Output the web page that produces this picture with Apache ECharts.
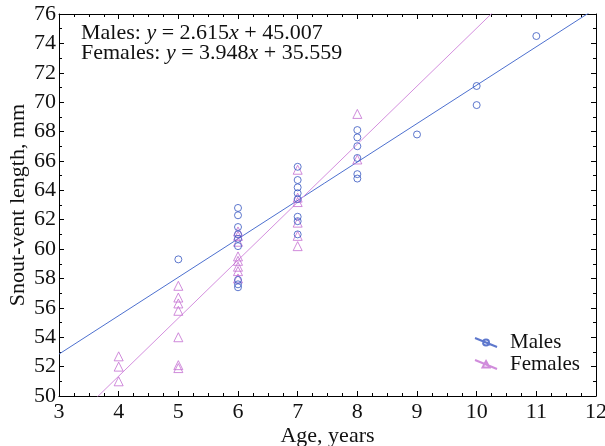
<!DOCTYPE html>
<html><head><meta charset="utf-8">
<script src="https://cdn.jsdelivr.net/npm/echarts@6/dist/echarts.min.js"></script>
<style>html,body{margin:0;padding:0;background:#fff}#c{width:605px;height:446px}</style>
</head><body><div id="c"></div>
<script>
// Data
const maleAges = [5, 6,6,6,6,6,6,6,6,6, 7,7,7,7,7,7,7,7, 8,8,8,8,8,8, 9, 10,10, 11];
const maleSVL  = [59.3, 62.8,62.3,61.5,61.0,60.7,60.2,57.9,57.6,57.4, 65.6,64.7,64.2,63.8,63.4,62.2,61.9,61.0, 68.1,67.6,67.0,66.2,65.1,64.8, 67.8, 71.1,69.8, 74.5];
const femaleAges = [4,4,4, 5,5,5,5,5,5,5, 6,6,6,6,6,6,6,6, 7,7,7,7,7,7, 8,8];
const femaleSVL  = [52.7,52.0,51.0, 57.5,56.7,56.3,55.8,54.0,52.1,51.9, 61.2,60.9,60.5,59.5,59.2,58.8,58.5,58.0, 65.4,63.5,63.2,61.8,60.9,60.2, 69.2,66.1];
const maleFit = [2.615, 45.007];     // slope, intercept
const femaleFit = [3.948, 35.559];
const xRange = [3, 12];
const yRange = [50, 76];
const seriesNames = ['Males', 'Females'];

const maleColor = '#3656c0', maleLine = '#4d70cf';
const femColor = '#c46fd2', femLine = '#d48fde';
const font = 'Liberation Serif';

function pairs(xs, ys){ return xs.map((x,i)=>[x, ys[i]]); }
function fitLine(c){ return xRange.map(x=>[x, c[0]*x + c[1]]); }

const tickCommon = {
  axisLine:{show:true, lineStyle:{color:'#000', width:1}},
  axisTick:{show:true, inside:true, length:5, lineStyle:{color:'#000'}},
  splitLine:{show:false}
};
const richText = {n:{fontFamily:font, fontSize:22, fill:'#111'}, i:{fontFamily:font, fontSize:22, fontStyle:'italic', fill:'#111'}};

const chart = echarts.init(document.getElementById('c'));
chart.setOption({
  animation:false,
  backgroundColor:'#fff',
  grid:{left:59, right:9, top:14, bottom:50, containLabel:false, outerBoundsMode:'none'},
  xAxis:[
    Object.assign({type:'value', min:xRange[0], max:xRange[1], interval:1, position:'bottom',
      name:'Age, years', nameLocation:'middle', nameGap:29, nameMoveOverlap:false,
      nameTextStyle:{fontFamily:font, fontSize:22, color:'#111'},
      axisLabel:{fontFamily:font, fontSize:22, color:'#111', margin:5}}, tickCommon,
      {minorTick:{show:true, splitNumber:4, length:3, lineStyle:{color:'#000'}}}),
    Object.assign({type:'value', min:xRange[0], max:xRange[1], interval:1, position:'top',
      axisLabel:{show:false}}, tickCommon,
      {minorTick:{show:true, splitNumber:4, length:3, lineStyle:{color:'#000'}}})
  ],
  yAxis:[
    Object.assign({type:'value', min:yRange[0], max:yRange[1], interval:2, position:'left',
      name:'Snout-vent length, mm', nameLocation:'middle', nameGap:30, nameMoveOverlap:false,
      nameTextStyle:{fontFamily:font, fontSize:22, color:'#111'},
      axisLabel:{fontFamily:font, fontSize:22, color:'#111', margin:3}}, tickCommon,
      {minorTick:{show:true, splitNumber:2, length:3, lineStyle:{color:'#000'}}}),
    Object.assign({type:'value', min:yRange[0], max:yRange[1], interval:2, position:'right',
      axisLabel:{show:false}}, tickCommon,
      {minorTick:{show:true, splitNumber:2, length:3, lineStyle:{color:'#000'}}})
  ],
  legend:{
    orient:'vertical', right:20, top:327, itemGap:1, itemWidth:22, itemHeight:9,
    textStyle:{fontFamily:font, fontSize:21, color:'#111', padding:[0,0,0,8]},
    data:[
      {name:seriesNames[0], icon:'path://M0,0L22,9M14,4.5A3,3 0 1 1 8,4.5A3,3 0 1 1 14,4.5Z'},
      {name:seriesNames[1], icon:'path://M0,0L22,9M11,1L14.5,7.5L7.5,7.5Z'}
    ]
  },
  graphic:[
    {type:'text', left:81, top:22, style:{text:'{n|Males: }{i|y}{n| = 2.615}{i|x}{n| + 45.007}', rich:richText}},
    {type:'text', left:81, top:42, style:{text:'{n|Females: }{i|y}{n| = 3.948}{i|x}{n| + 35.559}', rich:richText}}
  ],
  series:[
    {name:'Males fit', type:'line', data:fitLine(maleFit), symbol:'none', clip:true,
      lineStyle:{color:maleLine, width:1}, z:1},
    {name:'Females fit', type:'line', data:fitLine(femaleFit), symbol:'none', clip:true,
      lineStyle:{color:femLine, width:1}, z:1},
    {name:seriesNames[0], type:'scatter', data:pairs(maleAges, maleSVL), symbol:'circle', symbolSize:7,
      itemStyle:{color:'rgba(0,0,0,0)', borderColor:maleColor, borderWidth:1}, z:3},
    {name:seriesNames[1], type:'scatter', data:pairs(femaleAges, femaleSVL), symbol:'triangle', symbolSize:9,
      itemStyle:{color:'rgba(0,0,0,0)', borderColor:femColor, borderWidth:1}, z:2}
  ]
});
</script></body></html>
